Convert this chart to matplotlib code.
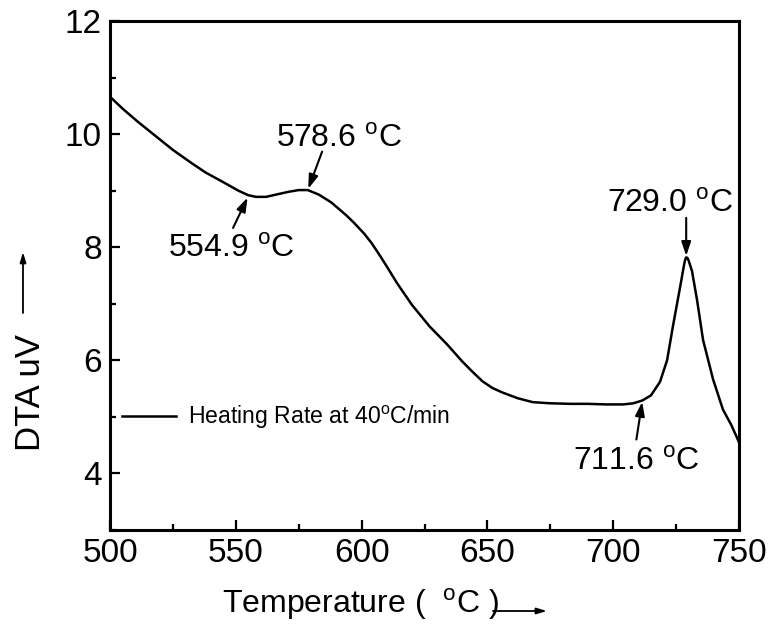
import matplotlib
matplotlib.use("Agg")
import matplotlib.pyplot as plt
from matplotlib.patches import FancyArrowPatch
from matplotlib.ticker import MultipleLocator

plt.rcParams['font.family'] = ['Liberation Sans', 'DejaVu Sans']
plt.rcParams['mathtext.fontset'] = 'custom'
plt.rcParams['mathtext.rm'] = 'Liberation Sans'

# DTA trace, heating at 40 C/min
temperature = [500, 505, 511, 518, 525, 532, 538, 545, 551, 554.9, 558, 562,
               567, 571, 575, 578.6, 583, 588, 594, 597, 601, 604, 607, 610,
               614, 620, 627, 634, 640, 644, 648, 652, 656, 662, 668, 675,
               683, 690, 697, 704, 708, 711.6, 715, 718.6, 721.4, 723.8,
               726.6, 728.2, 728.6, 729.0, 729.5, 730, 731.3, 733.3, 735.7,
               739.7, 743.6, 747, 750]
dta = [10.66, 10.45, 10.22, 9.97, 9.72, 9.50, 9.32, 9.15, 9.00, 8.92, 8.89, 8.89,
       8.94, 8.98, 9.01, 9.01, 8.93, 8.79, 8.56, 8.43, 8.24, 8.07, 7.87, 7.66,
       7.37, 6.98, 6.60, 6.28, 5.98, 5.80, 5.63, 5.51, 5.43, 5.33, 5.26, 5.24,
       5.23, 5.23, 5.22, 5.22, 5.24, 5.29, 5.38, 5.62, 6.00, 6.62,
       7.30, 7.70, 7.78, 7.82, 7.81, 7.76, 7.58, 7.07, 6.36,
       5.66, 5.13, 4.85, 4.55]

# characteristic temperatures marked on the curve
peak_temps = [554.9, 578.6, 729.0, 711.6]
peak_dta = [8.90, 9.01, 7.82, 5.29]
label_xy = [(523.1, 7.83), (566.0, 9.77), (697.5, 8.63), (684.0, 4.07)]
arrow_tail = [(548.9, 8.34), (584.3, 9.69), (729.0, 8.52), (709.2, 4.60)]

fig = plt.figure(figsize=(7.72, 6.26), dpi=100)
ax = fig.add_axes([0.1425, 0.1534, 0.8148, 0.8131])

ax.plot(temperature, dta, color='black', lw=1.8,
        label='Heating Rate at 40$^\\mathrm{o}$C/min')

for t, d, (lx, ly), (tx, ty) in zip(peak_temps, peak_dta, label_xy, arrow_tail):
    ax.annotate('', xy=(t, d), xytext=(tx, ty),
                arrowprops=dict(arrowstyle='-|>,head_length=0.6,head_width=0.2',
                                color='black', lw=1.5, shrinkA=0, shrinkB=1,
                                mutation_scale=14))
    ax.text(lx, ly, '%.1f $^\\mathrm{o}$C' % t, fontsize=23, va='baseline', ha='left')

ax.set_xlim(500, 750)
ax.set_ylim(3.0, 12)
ax.xaxis.set_major_locator(MultipleLocator(50))
ax.xaxis.set_minor_locator(MultipleLocator(25))
ax.yaxis.set_major_locator(MultipleLocator(2))
ax.yaxis.set_minor_locator(MultipleLocator(1))
ax.tick_params(which='both', direction='in', width=1.6, labelsize=24,
               top=False, right=False)
ax.tick_params(which='major', length=7, pad=6)
ax.tick_params(which='minor', length=4)
for s in ax.spines.values():
    s.set_linewidth(2.2)

ax.legend(loc='center left', bbox_to_anchor=(0.019, 0.222), frameon=False,
          fontsize=16.6, handlelength=2.35, handletextpad=0.5,
          borderpad=0, borderaxespad=0)

# axis titles with direction arrows
xlab = fig.text(0.2876, 1 - 613 / 626, 'Temperature (  $^\\mathrm{o}$C )',
                fontsize=23, ha='left', va='baseline')
fig.text(30 / 772, 1 - 393 / 626, 'DTA uV', fontsize=25, rotation=90,
         ha='center', va='center')

fig.canvas.draw()
bb = xlab.get_window_extent().transformed(fig.transFigure.inverted())
arrow = dict(arrowstyle='-|>,head_length=0.5,head_width=0.15', color='black',
             lw=1.3, shrinkA=0, shrinkB=0, mutation_scale=12)
x0 = bb.x1 - 6 / 772
fig.add_artist(FancyArrowPatch((x0, 1 - 611 / 626), (x0 + 54 / 772, 1 - 611 / 626),
                               transform=fig.transFigure, **arrow))
fig.add_artist(FancyArrowPatch((23 / 772, 1 - 313 / 626), (23 / 772, 1 - 252 / 626),
                               transform=fig.transFigure, **arrow))

fig.savefig('out.png', dpi=100)
